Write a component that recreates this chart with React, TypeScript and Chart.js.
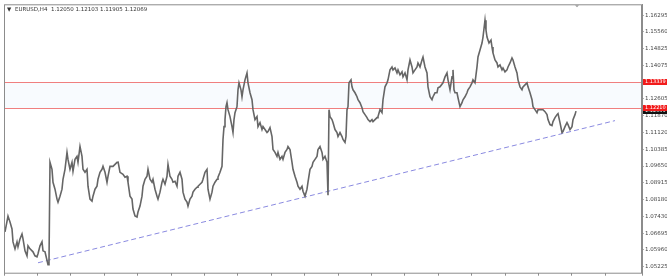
import React, { useEffect, useRef } from "react";
import { Chart, registerables } from "chart.js";
Chart.register(...registerables);

const symbolTitle = "EURUSD,H4  1.12050 1.12103 1.11905 1.12069";

const barIndex = [
  1, 4, 6, 8, 9, 11, 13, 14, 16, 18,
  19, 21, 23, 24, 26, 29, 31, 33, 34, 36,
  38, 39, 41, 44, 45, 46, 48, 49, 51, 53,
  54, 56, 58, 59, 61, 63, 64, 66, 68, 69,
  71, 73, 74, 76, 78, 79, 81, 83, 84, 86,
  88, 89, 91, 93, 94, 96, 98, 99, 101, 103,
  104, 106, 109, 113, 114, 116, 119, 121, 123, 124,
  126, 128, 129, 131, 133, 134, 136, 138, 139, 141,
  143, 144, 146, 148, 149, 151, 153, 154, 156, 158,
  159, 161, 163, 164, 166, 168, 169, 171, 173, 174,
  176, 178, 179, 181, 183, 184, 186, 188, 189, 191,
  193, 194, 196, 198, 199, 201, 203, 204, 206, 208,
  209, 211, 213, 214, 216, 218, 219, 220, 221, 222,
  223, 224, 226, 228, 229, 230, 231, 233, 234, 235,
  237, 238, 239, 241, 243, 244, 246, 248, 249, 251,
  253, 254, 256, 258, 259, 261, 263, 264, 266, 268,
  269, 271, 273, 274, 276, 278, 279, 281, 283, 284,
  286, 288, 289, 291, 293, 294, 296, 298, 299, 301,
  303, 304, 306, 308, 309, 311, 313, 314, 316, 318,
  319, 321, 323, 324, 325, 326, 328, 329, 331, 333,
  334, 336, 338, 339, 341, 342, 343, 344, 345, 347,
  348, 349, 351, 353, 354, 356, 358, 359, 361, 363,
  364, 366, 368, 369, 371, 373, 374, 376, 378, 379,
  381, 383, 384, 386, 388, 389, 391, 393, 394, 396,
  398, 399, 401, 403, 404, 406, 408, 409, 411, 413,
  414, 416, 418, 419, 421, 423, 424, 426, 428, 429,
  431, 433, 434, 436, 439, 441, 443, 444, 446, 448,
  449, 450, 451, 453, 454, 456, 458, 459, 461, 463,
  464, 466, 468, 469, 471, 473, 474, 476, 478, 479,
  481, 482, 483, 485, 487, 488, 489, 491, 493, 494,
  496, 498, 499, 501, 503, 504, 506, 508, 509, 511,
  513, 514, 516, 518, 519, 521, 523, 524, 526, 528,
  529, 531, 533, 534, 536, 539, 541, 543, 544, 546,
  548, 549, 551, 553, 554, 556, 558, 559, 561, 563,
  564, 566, 568, 569, 571, 572,
];

const closePrice = [
  1.06747, 1.07447, 1.07185, 1.06878, 1.06309, 1.06002, 1.06309, 1.0609, 1.0644, 1.06659,
  1.0644, 1.05914, 1.05695, 1.06133, 1.06002, 1.05871, 1.05695, 1.05652, 1.05783, 1.06133,
  1.06309, 1.05914, 1.05871, 1.05301, 1.05433, 1.09813, 1.09506, 1.08937, 1.0863, 1.08192,
  1.08061, 1.08323, 1.0863, 1.09068, 1.09506, 1.10251, 1.09944, 1.09506, 1.09813, 1.09418,
  1.09944, 1.10075, 1.09813, 1.10513, 1.10075, 1.09506, 1.09375, 1.09506, 1.08761, 1.08192,
  1.08104, 1.08323, 1.0863, 1.08761, 1.09068, 1.09375, 1.09506, 1.09637, 1.09375, 1.08937,
  1.09199, 1.09637, 1.09637, 1.09813, 1.09856, 1.09375, 1.09287, 1.09156, 1.09199, 1.08937,
  1.08323, 1.08192, 1.07754, 1.07447, 1.07404, 1.07623, 1.07885, 1.08323, 1.08761, 1.09068,
  1.09199, 1.09506, 1.09068, 1.08937, 1.09068, 1.0863, 1.08323, 1.08192, 1.08499, 1.08937,
  1.09068, 1.08849, 1.09199, 1.09725, 1.09199, 1.09068, 1.08937, 1.0898, 1.08761, 1.09199,
  1.09375, 1.09068, 1.08499, 1.08192, 1.08061, 1.07885, 1.08192, 1.08323, 1.08499, 1.0863,
  1.08718, 1.08761, 1.08849, 1.08937, 1.09068, 1.09375, 1.09506, 1.0863, 1.08192, 1.08499,
  1.08761, 1.08937, 1.09068, 1.09156, 1.09375, 1.09637, 1.1082, 1.11389, 1.11696, 1.12265,
  1.12441, 1.12134, 1.11827, 1.11389, 1.11127, 1.11696, 1.12003, 1.12265, 1.1301, 1.13317,
  1.1301, 1.12703, 1.1301, 1.13448, 1.13755, 1.13317, 1.12879, 1.12572, 1.12134, 1.11696,
  1.11827, 1.11389, 1.11565, 1.11258, 1.11389, 1.11258, 1.11127, 1.1117, 1.11346, 1.10951,
  1.10382, 1.10251, 1.10075, 1.10251, 1.09944, 1.10075, 1.09944, 1.10251, 1.10382, 1.10513,
  1.10382, 1.09813, 1.09506, 1.09199, 1.08937, 1.08761, 1.0863, 1.08761, 1.08542, 1.08323,
  1.0863, 1.08937, 1.09506, 1.09637, 1.09813, 1.09944, 1.10075, 1.10382, 1.10513, 1.10251,
  1.09944, 1.10075, 1.09813, 1.08367, 1.12134, 1.11827, 1.11696, 1.11565, 1.11258, 1.11127,
  1.10951, 1.11127, 1.10951, 1.1082, 1.10689, 1.10951, 1.12134, 1.12265, 1.13317, 1.13448,
  1.13141, 1.1301, 1.12879, 1.12703, 1.12572, 1.12441, 1.12222, 1.12046, 1.11915, 1.11784,
  1.11696, 1.11608, 1.11696, 1.11608, 1.11696, 1.11784, 1.11827, 1.12134, 1.12003, 1.12572,
  1.13141, 1.13317, 1.13448, 1.13886, 1.14017, 1.13886, 1.13974, 1.13755, 1.13886, 1.13667,
  1.13798, 1.13579, 1.13755, 1.13448, 1.13886, 1.14324, 1.14017, 1.13755, 1.13886, 1.14017,
  1.14193, 1.14017, 1.14324, 1.14455, 1.14017, 1.13755, 1.13141, 1.12703, 1.12572, 1.12703,
  1.12879, 1.12879, 1.13098, 1.13141, 1.13317, 1.13579, 1.13755, 1.13448, 1.1301, 1.13579,
  1.13886, 1.1301, 1.12879, 1.12879, 1.1266, 1.12265, 1.12441, 1.12572, 1.12703, 1.12879,
  1.1301, 1.13141, 1.13317, 1.13448, 1.13317, 1.14017, 1.14455, 1.14762, 1.15069, 1.15331,
  1.16076, 1.15638, 1.15331, 1.15069, 1.152, 1.14893, 1.14631, 1.14324, 1.14193, 1.14017,
  1.14105, 1.13886, 1.13974, 1.13798, 1.13886, 1.14017, 1.14193, 1.14412, 1.14324, 1.14017,
  1.13755, 1.13448, 1.13141, 1.1301, 1.13141, 1.13229, 1.13317, 1.13141, 1.12879, 1.12572,
  1.12265, 1.12134, 1.12003, 1.12134, 1.12134, 1.12134, 1.12046, 1.11915, 1.11696, 1.11477,
  1.11433, 1.11608, 1.11784, 1.11915, 1.11959, 1.11565, 1.11127, 1.1117, 1.11389, 1.11565,
  1.11477, 1.11258, 1.11389, 1.11696, 1.11915, 1.12069,
];

const trendBars = [34, 611];
const trendPrices = [1.05389, 1.11652];

const levelPrices = [1.13339, 1.1221];
const bidPrice = 1.12069;

const yTickValues = [
  1.16295, 1.1556, 1.14825, 1.14075, 1.12605, 1.1187, 1.1112, 1.10385,
  1.0965, 1.08915, 1.0818, 1.0743, 1.06695, 1.0596, 1.05225,
];
const yRange = [1.04951, 1.16777];
const xRange = [0, 638];
const xTickStep = 33.4;

const FONT = "Tahoma, 'DejaVu Sans', sans-serif";

const overlayPlugin = {
  id: "mtOverlay",
  beforeDatasetsDraw(chart: any) {
    const { ctx, chartArea: a, scales } = chart;
    const y = scales.y;
    const y1 = Math.round(y.getPixelForValue(levelPrices[0])) + 0.5;
    const y2 = Math.round(y.getPixelForValue(levelPrices[1])) + 0.5;
    ctx.save();
    ctx.fillStyle = "#f8fbfe";
    ctx.fillRect(a.left, y1, a.right - a.left, y2 - y1);
    ctx.strokeStyle = "#f07f7f";
    ctx.lineWidth = 1;
    [y1, y2].forEach((py) => {
      ctx.beginPath();
      ctx.moveTo(a.left, py);
      ctx.lineTo(a.right, py);
      ctx.stroke();
    });
    ctx.restore();
  },
  afterDraw(chart: any) {
    const { ctx, chartArea: a, scales } = chart;
    const y = scales.y;
    const x = scales.x;
    ctx.save();
    ctx.strokeStyle = "#8c8c8c";
    ctx.lineWidth = 1;
    ctx.strokeRect(a.left + 0.5, a.top + 0.5, a.right - a.left - 1, a.bottom - a.top);
    ctx.fillStyle = "#333";
    ctx.font = `5.5px ${FONT}`;
    ctx.textBaseline = "middle";
    ctx.textAlign = "left";
    ctx.fillText("\u25BC", a.left + 3, a.top + 5);
    ctx.fillText(symbolTitle, a.left + 11, a.top + 5);
    const mx = x.getPixelForValue(barIndex[barIndex.length - 1]) + 1;
    ctx.fillStyle = "#9a9a9a";
    ctx.beginPath();
    ctx.moveTo(mx - 2, a.top + 1);
    ctx.lineTo(mx + 2, a.top + 1);
    ctx.lineTo(mx, a.top + 3);
    ctx.closePath();
    ctx.fill();
    const drawLabel = (value: number, bg: string) => {
      const py = Math.round(y.getPixelForValue(value));
      ctx.fillStyle = bg;
      ctx.fillRect(a.right + 1, py - 3, 24, 6);
      ctx.fillStyle = "#ffffff";
      ctx.font = `5px ${FONT}`;
      ctx.textAlign = "left";
      ctx.textBaseline = "middle";
      ctx.fillText(value.toFixed(5), a.right + 3, py);
    };
    drawLabel(bidPrice, "#111111");
    levelPrices.forEach((v) => drawLabel(v, "#f21b1b"));
    ctx.restore();
  },
};

export default function App() {
  const ref = useRef<HTMLCanvasElement | null>(null);
  useEffect(() => {
    document.body.style.margin = "0";
    const canvas = ref.current;
    if (!canvas) return;
    const priceData = barIndex.map((b, i) => ({ x: b, y: closePrice[i] }));
    const trendData = trendBars.map((b, i) => ({ x: b, y: trendPrices[i] }));
    const chart = new Chart(canvas, {
      type: "line",
      data: {
        datasets: [
          {
            label: "EURUSD,H4",
            data: priceData,
            borderColor: "#666666",
            borderWidth: 1.6,
            pointRadius: 0,
            tension: 0,
          },
          {
            label: "Trend",
            data: trendData,
            borderColor: "#8a8ae0",
            borderWidth: 1,
            borderDash: [5, 3],
            pointRadius: 0,
          },
        ],
      },
      options: {
        responsive: false,
        animation: false,
        devicePixelRatio: 1,
        layout: { padding: { left: 4, top: 4, right: 0, bottom: 0 } },
        plugins: { legend: { display: false }, tooltip: { enabled: false }, title: { display: false } },
        scales: {
          x: {
            type: "linear",
            min: xRange[0],
            max: xRange[1],
            border: { display: false },
            grid: { drawOnChartArea: false, tickLength: 3, color: "#8c8c8c" },
            ticks: {
              stepSize: xTickStep,
              autoSkip: false,
              callback: () => "",
              maxRotation: 0,
            },
            afterFit: (s: any) => {
              s.height = 3;
            },
          },
          y: {
            position: "right",
            min: yRange[0],
            max: yRange[1],
            border: { display: true, color: "#8c8c8c" },
            grid: { drawOnChartArea: false, tickLength: 2, color: "#b0b0b0" },
            afterBuildTicks: (s: any) => {
              s.ticks = yTickValues.map((v) => ({ value: v }));
            },
            ticks: {
              autoSkip: false,
              padding: 1,
              color: "#444",
              font: { size: 5.5, family: FONT },
              callback: (v: any) => Number(v).toFixed(5),
            },
            afterFit: (s: any) => {
              s.width = 25;
            },
          },
        },
      },
      plugins: [overlayPlugin],
    });
    return () => chart.destroy();
  }, []);
  return (
    <div style={{ position: "absolute", left: 0, top: 0, width: 667, height: 277, background: "#fff" }}>
      <canvas ref={ref} width={667} height={277} style={{ width: 667, height: 277, display: "block" }} />
    </div>
  );
}
